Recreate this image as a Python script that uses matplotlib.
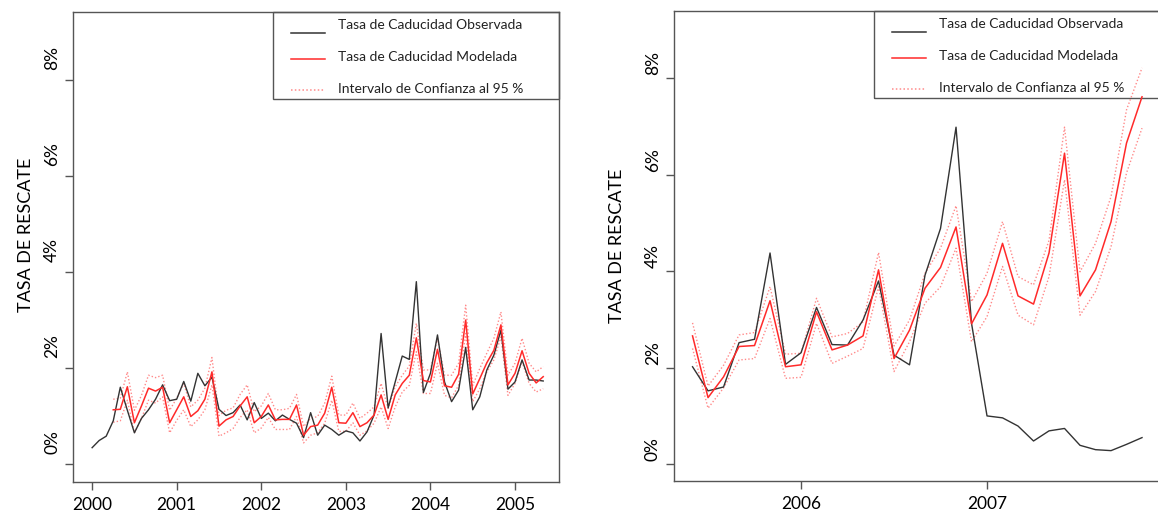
import matplotlib.pyplot as plt
from matplotlib.lines import Line2D
from matplotlib.patches import Rectangle
from matplotlib import transforms

plt.rcParams['font.family'] = ['Lato', 'DejaVu Sans']

# datos mensuales 2000-01 .. 2005-05
obs_izq = [0.34, 0.49, 0.58, 0.90, 1.60, 1.12, 0.65, 0.95, 1.13, 1.35, 1.65, 1.32,
           1.35, 1.72, 1.31, 1.89, 1.63, 1.81, 1.14, 1.01, 1.07, 1.23, 0.92, 1.28,
           0.95, 1.06, 0.90, 1.02, 0.93, 0.85, 0.55, 1.07, 0.60, 0.81, 0.72, 0.60,
           0.69, 0.65, 0.48, 0.67, 1.02, 2.72, 1.17, 1.71, 2.25, 2.18, 3.80, 1.49,
           1.89, 2.69, 1.71, 1.30, 1.54, 2.43, 1.13, 1.40, 1.96, 2.27, 2.79, 1.56,
           1.71, 2.17, 1.75, 1.75, 1.73]
# modelo desde 2000-04
mod_izq = [1.13, 1.14, 1.61, 0.86, 1.21, 1.58, 1.52, 1.60, 0.86,
           1.13, 1.40, 0.99, 1.11, 1.35, 1.92, 0.79, 0.92, 0.99, 1.21, 1.40, 0.86,
           0.99, 1.23, 0.92, 0.93, 0.93, 1.23, 0.60, 0.78, 0.81, 1.06, 1.60, 0.86,
           0.85, 1.07, 0.78, 0.86, 1.02, 1.44, 0.93, 1.44, 1.68, 1.85, 2.63, 1.74,
           1.71, 2.39, 1.63, 1.60, 1.87, 3.00, 1.46, 1.78, 2.11, 2.37, 2.90, 1.65,
           1.89, 2.36, 1.89, 1.69, 1.82]
sup_izq = [1.35, 1.37, 1.92, 1.12, 1.43, 1.85, 1.80, 1.85, 1.12,
           1.37, 1.68, 1.19, 1.33, 1.58, 2.22, 1.01, 1.12, 1.17, 1.45, 1.65, 1.09,
           1.21, 1.47, 1.13, 1.13, 1.16, 1.45, 0.78, 0.95, 0.99, 1.27, 1.83, 1.02,
           1.02, 1.27, 0.95, 1.06, 1.19, 1.68, 1.16, 1.61, 1.85, 2.04, 2.93, 1.96,
           1.96, 2.62, 1.85, 1.85, 2.10, 3.31, 1.64, 1.99, 2.31, 2.62, 3.17, 1.85,
           2.10, 2.62, 2.10, 1.92, 2.03]
inf_izq = [0.87, 0.90, 1.33, 0.65, 0.95, 1.33, 1.27, 1.40, 0.65,
           0.91, 1.13, 0.78, 0.92, 1.13, 1.65, 0.58, 0.65, 0.74, 0.97, 1.13, 0.65,
           0.75, 0.97, 0.72, 0.72, 0.72, 0.99, 0.44, 0.60, 0.65, 0.85, 1.33, 0.68,
           0.68, 0.86, 0.60, 0.69, 0.85, 1.19, 0.74, 1.19, 1.50, 1.64, 2.34, 1.47,
           1.47, 2.10, 1.43, 1.38, 1.64, 2.72, 1.30, 1.57, 1.92, 2.17, 2.65, 1.43,
           1.68, 2.14, 1.68, 1.50, 1.57]

# datos mensuales 2005-06 .. 2007-11
obs_der = [2.02, 1.52, 1.60, 2.52, 2.59, 4.38, 2.07, 2.31, 3.25, 2.48, 2.47, 2.99,
           3.80, 2.26, 2.06, 3.92, 4.89, 6.99, 2.92, 1.00, 0.96, 0.79, 0.48, 0.69,
           0.74, 0.39, 0.30, 0.28, 0.41, 0.55]
mod_der = [2.66, 1.38, 1.81, 2.44, 2.46, 3.39, 2.02, 2.06, 3.16, 2.37, 2.47, 2.66,
           4.03, 2.19, 2.78, 3.65, 4.08, 4.92, 2.91, 3.51, 4.58, 3.49, 3.32, 4.38,
           6.45, 3.49, 4.03, 5.03, 6.66, 7.62]
sup_der = [2.93, 1.62, 2.05, 2.68, 2.73, 3.68, 2.28, 2.30, 3.44, 2.64, 2.71, 2.95,
           4.39, 2.45, 2.99, 3.96, 4.48, 5.36, 3.37, 3.96, 5.03, 3.89, 3.72, 4.64,
           6.99, 3.99, 4.58, 5.55, 7.35, 8.22]
inf_der = [2.40, 1.16, 1.58, 2.16, 2.19, 3.02, 1.78, 1.80, 2.92, 2.09, 2.24, 2.40,
           3.68, 1.92, 2.54, 3.34, 3.68, 4.48, 2.54, 3.06, 4.10, 3.09, 2.89, 3.89,
           5.90, 3.09, 3.58, 4.51, 6.04, 6.97]

etiquetas = ['Tasa de Caducidad Observada', 'Tasa de Caducidad Modelada',
             'Intervalo de Confianza al 95 %']
anios_izq = [2000, 2001, 2002, 2003, 2004, 2005]
anios_der = [2006, 2007]
ticks_y = [0, 2, 4, 6, 8]

t_izq = [2000 + i / 12 for i in range(len(obs_izq))]
t_mod_izq = t_izq[3:]
t_der = [2005 + (5 + i) / 12 for i in range(len(obs_der))]

gris = '#555555'
negro = '#333333'
rojo = '#ff2a2a'
rojo_claro = '#ff8a8a'

fig = plt.figure(figsize=(11.58, 5.14), dpi=100)
ax1 = fig.add_axes([73 / 1158, 32 / 514, 486 / 1158, 470 / 514])
ax2 = fig.add_axes([674 / 1158, 33 / 514, 486 / 1158, 470 / 514])


def panel(ax, t, obs, tm, mod, sup, inf, anios, xlim, ylim, dy):
    ax.plot(tm, sup, color=rojo_claro, lw=1.0, ls=(0, (1, 1.5)))
    ax.plot(tm, inf, color=rojo_claro, lw=1.0, ls=(0, (1, 1.5)))
    ax.plot(t, obs, color=negro, lw=1.0)
    ax.plot(tm, mod, color=rojo, lw=1.1)
    ax.set_xlim(*xlim)
    ax.set_ylim(*ylim)
    ax.set_xticks(anios)
    ax.set_xticklabels([str(a) for a in anios], fontsize=12.5)
    ax.set_yticks(ticks_y)
    ax.set_yticklabels([])
    ax.tick_params(axis='both', direction='out', length=6, width=1, color=gris)
    ax.tick_params(axis='x', pad=5)
    for s in ax.spines.values():
        s.set_color(gris)
        s.set_linewidth(1)
    # etiquetas del eje y giradas
    tr = transforms.blended_transform_factory(ax.transAxes, ax.transData)
    tr = transforms.offset_copy(tr, fig=fig, x=-13 / 100, y=dy / 100, units='inches')
    for v in ticks_y:
        ax.text(0, v, '%d%%' % v, rotation=90, ha='right', va='bottom',
                fontsize=12.5, transform=tr)
    # leyenda dibujada a mano
    ax.add_patch(Rectangle((0.4115, 0.814), 1 - 0.4115, 1 - 0.814,
                           transform=ax.transAxes, fill=False, edgecolor=gris,
                           lw=1, clip_on=False))
    estilos = [(negro, '-', 0.955, 0.973), (rojo, '-', 0.901, 0.904),
               (rojo_claro, (0, (1, 1.5)), 0.833, 0.836)]
    for (c, ls, yl, yt), lab in zip(estilos, etiquetas):
        ax.add_line(Line2D([0.4486, 0.5185], [yl, yl], color=c, ls=ls, lw=1.1,
                           transform=ax.transAxes))
        ax.text(0.545, yt, lab, fontsize=10, va='center', color='#222222',
                transform=ax.transAxes)


panel(ax1, t_izq, obs_izq, t_mod_izq, mod_izq, sup_izq, inf_izq, anios_izq,
      (1999.774, 2005.52), (-0.375, 9.42), 10)
panel(ax2, t_der, obs_der, t_der, mod_der, sup_der, inf_der, anios_der,
      (2005.317, 2007.93), (-0.35, 9.40), 3)

fig.text(26 / 1158, 1 - 235 / 514, 'TASA DE RESCATE', rotation=90, ha='center',
         va='center', fontsize=13)
fig.text(617 / 1158, 1 - 246 / 514, 'TASA DE RESCATE', rotation=90, ha='center',
         va='center', fontsize=13)

plt.savefig('out.png', dpi=100)
